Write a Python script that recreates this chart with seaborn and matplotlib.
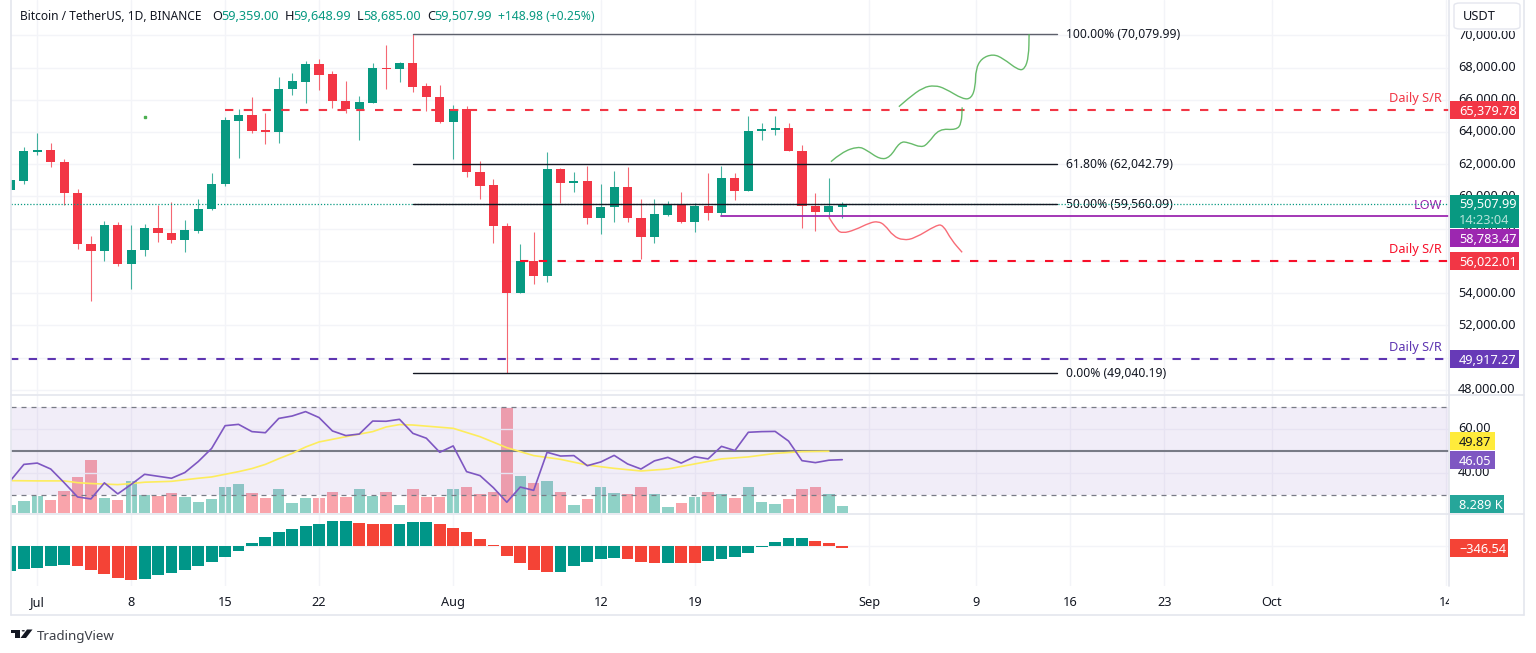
import matplotlib
matplotlib.use("Agg")
import matplotlib.pyplot as plt
import pandas as pd
import seaborn as sns
from matplotlib.patches import Circle, FancyBboxPatch, PathPatch, Polygon, Rectangle
from matplotlib.path import Path
from matplotlib.transforms import Bbox, ScaledTranslation, TransformedBbox

W, H = 1536, 653

# candles, one per day from Jun 29, day 0 is Jul 1
days = list(range(-2, 61))
opens = [60399, 60978, 62778, 62882, 62158, 60213, 57068, 56633, 58206, 55826, 56675, 58061, 57750,
         57295, 57875, 59199, 60771, 64702, 65033, 64102, 63978, 66647, 67123, 68199, 67578, 65923,
         65406, 65820, 67951, 67909, 68261, 66833, 66192, 64599, 65406, 61516, 60688, 58164, 53985,
         56013, 55082, 61682, 60833, 60937, 58661, 59364, 60585, 58682, 57502, 58868, 59468, 58392,
         59426, 58971, 61164, 60337, 64040, 64144, 64268, 62840, 59426, 59033, 59359]
highs = [61226, 63047, 63916, 63295, 62302, 60482, 57544, 58495, 58433, 58206, 58288, 59468, 59633,
         58537, 59861, 61433, 64951, 65406, 66151, 65157, 67413, 67640, 68406, 68530, 67764, 67164,
         66213, 68261, 69420, 68364, 70080, 67061, 66895, 65675, 65613, 62219, 61102, 58330, 57026,
         57771, 62757, 61764, 61495, 61868, 60771, 61578, 61826, 59861, 59861, 59695, 60275, 59612,
         61433, 61868, 61433, 64992, 64537, 64992, 64537, 63213, 60192, 61164, 59649]
lows = [60233, 60771, 62551, 61826, 59468, 56757, 53530, 56013, 55702, 54254, 56302, 57192, 57088,
        56571, 57750, 59157, 60668, 62385, 63916, 63275, 63337, 66275, 65820, 66585, 65489, 65199,
        63502, 65778, 66689, 67123, 66482, 65323, 64537, 62344, 61226, 59861, 57130, 49040, 53985,
        54564, 54709, 59571, 60275, 58288, 57667, 58392, 58433, 56095, 57130, 58806, 58371, 57812,
        58537, 58827, 59778, 60337, 63523, 63813, 62799, 58019, 57875, 58744, 58685]
closes = [61020, 62799, 62902, 62137, 60192, 57047, 56633, 58206, 55826, 56695, 58061, 57730, 57295,
          57895, 59199, 60792, 64723, 65033, 64082, 63978, 66668, 67144, 68199, 67558, 65923, 65427,
          65840, 67951, 67889, 68261, 66813, 66192, 64599, 65406, 61495, 60668, 58144, 53985, 56013,
          55082, 61682, 60833, 60937, 58661, 59364, 60585, 58661, 57502, 58888, 59468, 58413, 59426,
          58992, 61164, 60337, 64061, 64164, 64268, 62819, 59426, 59033, 59385, 59508]
volumes = [10.4, 14.5, 20.7, 15.7, 26.9, 45.1, 66.2, 18.6, 16.6, 39.7, 22.8, 20.7, 25.3, 19.9, 13.2,
           17.8, 32.3, 35.6, 25.3, 18.6, 29.4, 12.4, 18.6, 18.6, 26.1, 19.9, 29.4, 20.7, 26.1, 10.4,
           30.2, 19.9, 19.9, 29.4, 32.7, 24.0, 26.1, 130.8, 46.4, 36.8, 40.2, 26.1, 9.5, 17.0, 31.9,
           24.4, 24.0, 31.9, 23.2, 7.5, 12.4, 19.9, 26.5, 24.0, 18.2, 31.9, 13.7, 11.6, 17.0, 29.4,
           31.9, 23.2, 8.289]
rsi = [36.5, 43.9, 44.5, 41.8, 35.6, 29.1, 28.2, 35.5, 30.5, 34.8, 39.4, 38.5, 37.6, 40.2, 45.2,
       51.2, 61.5, 62.1, 58.8, 58.3, 64.8, 65.9, 67.9, 65.2, 59.1, 57.0, 57.7, 63.6, 63.5, 64.4,
       58.0, 55.8, 49.4, 52.3, 40.6, 38.8, 33.3, 26.7, 33.6, 32.1, 49.4, 47.7, 47.9, 43.3, 45.0,
       48.0, 44.1, 41.8, 45.5, 47.1, 44.5, 47.4, 46.4, 52.1, 50.2, 58.5, 58.8, 58.9, 54.5, 45.6,
       44.7, 45.8, 46.05]
rsi_ma_days = [-2, 0, 2, 3, 4, 6, 7, 8, 10, 12, 13, 14, 15, 16, 17, 18, 19, 20, 21, 23, 25, 26, 27,
               28, 30, 31, 33, 35, 37, 39, 41, 43, 45, 47, 49, 51, 53, 55, 57, 59]
rsi_ma = [36.5, 36.4, 36.4, 35.6, 35.2, 34.7, 35.2, 35.8, 36.2, 37.6, 38.2, 39.4, 40.6, 42.0, 43.9,
          46.5, 48.9, 51.8, 54.1, 56.5, 58.8, 60.9, 62.0, 61.8, 60.8, 60.3, 56.5, 51.5, 47.9, 46.2,
          43.6, 42.1, 40.9, 41.8, 44.1, 46.4, 47.3, 48.9, 49.7, 49.87]
macd = [-3700, -3450, -3250, -3000, -2850, -3000, -3600, -4250, -4750, -5150, -5000, -4400, -4000,
        -3600, -3000, -2350, -1700, -800, 400, 1300, 2050, 2550, 3050, 3350, 3700, 3700, 3450, 3350,
        3350, 3350, 3600, 3600, 3350, 2700, 2050, 1050, 200, -1550, -2550, -3550, -3950, -3850,
        -2950, -2350, -1950, -1850, -1950, -2350, -2600, -2600, -2600, -2600, -2200, -1950, -1600,
        -1050, -200, 600, 1200, 1200, 800, 450, -346.54]
macd_dir = ["up"] * 5 + ["down"] * 5 + ["up"] * 16 + ["down"] * 3 + ["up"] * 3 + ["down"] * 9 + \
    ["up"] * 5 + ["down"] * 3 + ["up"] + ["down"] * 2 + ["up"] * 8 + ["down"] * 3

# hand drawn paths on the chart
green1_x = [59.16, 59.95, 61.19, 61.81, 62.81, 63.55, 64.30, 64.92, 65.91, 66.40, 67.22, 68.51, 68.89, 68.94]
green1_y = [62158, 62737, 63109, 62882, 62302, 62406, 63399, 63357, 63026, 63295, 64206, 64123, 64537, 65530]
green2_x = [64.22, 64.92, 66.03, 66.90, 67.65, 69.01, 69.63, 69.93, 69.95, 70.38, 71.24, 71.99, 73.11, 73.60, 73.90, 73.93]
green2_y = [65571, 66089, 66771, 66895, 66709, 66026, 66089, 66813, 67889, 68571, 68840, 68571, 67847, 67889, 68675, 70080]
red_x = [59.01, 59.58, 60.02, 60.94, 62.06, 62.68, 63.18, 63.80, 64.54, 65.41, 67.03, 67.52, 68.14, 68.94]
red_y = [58702, 57916, 57709, 57916, 58371, 58454, 58226, 57543, 57275, 57399, 58226, 58226, 57295, 56530]

fib_levels = [70079.99, 62042.79, 59560.09, 49040.19]
fib_labels = ["100.00% (70,079.99)", "61.80% (62,042.79)", "50.00% (59,560.09)", "0.00% (49,040.19)"]
fib_colors = ["#5d606b", "#131722", "#131722", "#131722"]
sr_levels = [65379.78, 56022.01, 49917.27]
sr_starts = [14, 36, -2]
sr_colors = ["#f23645", "#f7102a", "#5e35b1"]
low_level = 58783.47
low_start = 51
last_price = 59507.99

price_ticks = list(range(48000, 72000, 2000))
date_ticks = [0, 7, 14, 21, 31, 42, 49, 62, 70, 77, 84, 92, 105]
date_labels = ["Jul", "8", "15", "22", "Aug", "12", "19", "Sep", "9", "16", "23", "Oct", "14"]
month_labels = ["Jul", "Aug", "Sep", "Oct"]

GREEN = "#089981"
RED = "#f23645"
TEXT = "#131722"
GRID = "#f3f4f8"
BORDER = "#e4e6ee"
XMIN, XMAX = -1.96, 105.23
FS = 9.2
VA = "center_baseline"

sns.set_theme(style="white")
plt.rcParams["font.family"] = ["Noto Sans", "DejaVu Sans"]
plt.rcParams["font.size"] = FS

fig = plt.figure(figsize=(W / 100, H / 100), dpi=100, facecolor="white")


def px_axes(x0, y0, x1, y1):
    return fig.add_axes([x0 / W, 1 - y1 / H, (x1 - x0) / W, (y1 - y0) / H])


def clip_px(x0, y0, x1, y1):
    return TransformedBbox(Bbox([[x0 / W, 1 - y1 / H], [x1 / W, 1 - y0 / H]]), fig.transFigure)


def px_text(x, y, s, **kw):
    kw.setdefault("color", TEXT)
    kw.setdefault("fontsize", FS)
    return fig.text(x / W, 1 - y / H, s, va=VA, zorder=19, **kw)


# pen stroke through the read points, rounded at each one
def pen(a, xs, ys, color):
    verts = [(xs[0], ys[0])]
    codes = [Path.MOVETO]
    for i in range(1, len(xs) - 1):
        verts += [(xs[i], ys[i]), ((xs[i] + xs[i + 1]) / 2, (ys[i] + ys[i + 1]) / 2)]
        codes += [Path.CURVE3, Path.CURVE3]
    verts.append((xs[-1], ys[-1]))
    codes.append(Path.LINETO)
    a.add_patch(PathPatch(Path(verts, codes), fc="none", ec=color, lw=1, alpha=0.85, zorder=5))


ax = px_axes(11, 0, 1449, 394)
ax_rsi = px_axes(11, 395, 1449, 513)
ax_vol = ax_rsi.twinx()
ax_macd = px_axes(11, 514, 1449, 586)
ax_vol.set_zorder(1)
ax_rsi.set_zorder(2)
ax_rsi.patch.set_visible(False)

df = pd.DataFrame({"day": days, "open": opens, "high": highs, "low": lows, "close": closes,
                   "volume": volumes, "rsi": rsi, "macd": macd, "macd_dir": macd_dir})
df["dir"] = ["up" if c >= o else "down" for o, c in zip(df["open"], df["close"])]
df["color"] = df["dir"].map({"up": GREEN, "down": RED})

# candles
ax.vlines(df["day"], df["low"], df["high"], colors=df["color"], linewidth=0.8, alpha=0.75, zorder=3)
ax.bar(df["day"], (df["close"] - df["open"]).abs().clip(lower=60), bottom=df[["open", "close"]].min(axis=1),
       width=0.68, color=df["color"], linewidth=0, zorder=3)

# levels
for level, start, color in zip(sr_levels, sr_starts, sr_colors):
    ax.plot([start, XMAX], [level, level], color=color, lw=1.5, dashes=(4, 5), zorder=4)
    ax.annotate("Daily S/R", xy=(1442, level), xycoords=("figure pixels", "data"), xytext=(0, 12.5),
                textcoords="offset pixels", color=color, ha="right", va=VA, fontsize=FS)
ax.axhline(last_price, color=GREEN, lw=0.9, ls=(0, (1, 1.5)), zorder=4)
ax.plot([low_start, XMAX], [low_level, low_level], color="#9c27b0", lw=1.3, zorder=4)
ax.annotate("LOW", xy=(1442, low_level), xycoords=("figure pixels", "data"), xytext=(0, 12),
            textcoords="offset pixels", color="#9c27b0", ha="right", va=VA, fontsize=FS)
for level, label, color in zip(fib_levels, fib_labels, fib_colors):
    ax.plot([28, 76], [level, level], color=color, lw=1.0, zorder=5)
    ax.annotate(label, xy=(76, level), xytext=(9, 1), textcoords="offset pixels", color=TEXT,
                ha="left", va=VA, fontsize=8.75)

pen(ax, green1_x, green1_y, "#4caf50")
pen(ax, green2_x, green2_y, "#4caf50")
pen(ax, red_x, red_y, "#f7525f")
ax.plot([8], [64951], marker="s", ms=1.5, color="#4caf50", zorder=5)

ax.set_ylim(47736, 72193)
ax.set_yticks(price_ticks)
ax.set_yticklabels([f"{p:,.2f}" for p in price_ticks])

# volume under the rsi
sns.barplot(data=df, x="day", y="volume", hue="dir", palette={"up": GREEN, "down": RED}, native_scale=True,
            width=0.85, saturation=1, alpha=0.45, linewidth=0, legend=False, errorbar=None, ax=ax_vol)
ax_vol.set_ylim(0, 146.4)
ax_vol.axis("off")

ax_rsi.axhspan(30, 70, color="#7e57c2", alpha=0.1, lw=0, zorder=1)
ax_rsi.axhline(70, color="#787b86", lw=0.9, dashes=(4, 4), zorder=2)
ax_rsi.axhline(30, color="#787b86", lw=0.9, dashes=(4, 4), zorder=2)
ax_rsi.axhline(50, color="#787b86", lw=1.5, zorder=2)
sns.lineplot(x=rsi_ma_days, y=rsi_ma, color="#fdec5c", lw=1.2, ax=ax_rsi, zorder=3)
sns.lineplot(data=df, x="day", y="rsi", color="#7e57c2", lw=1.2, errorbar=None, ax=ax_rsi, zorder=4)
ax_rsi.set_ylim(21.8, 75.45)
ax_rsi.set_yticks([40, 60])
ax_rsi.set_yticklabels(["40.00", "60.00"])

# macd histogram
sns.barplot(data=df, x="day", y="macd", hue="macd_dir", palette={"up": "#009688", "down": "#f44336"},
            native_scale=True, width=0.88, saturation=1, linewidth=0, legend=False, errorbar=None, ax=ax_macd)
ax_macd.set_ylim(-6000, 4800)
ax_macd.set_yticks([0])
ax_macd.set_yticklabels([""])

for a in [ax, ax_rsi, ax_macd]:
    a.set_xlim(XMIN, XMAX)
    a.set_xticks(date_ticks)
    a.set_xlabel("")
    a.set_ylabel("")
    a.yaxis.tick_right()
    a.grid(True, color=GRID, lw=1)
    a.set_axisbelow(True)
    a.tick_params(axis="both", length=0, colors=TEXT, labelsize=FS)
    a.tick_params(axis="y", pad=6.5)
    for s in a.spines.values():
        s.set_visible(False)
    for lab in a.get_yticklabels():
        lab.set_verticalalignment(VA)
        lab.set_transform(lab.get_transform() + ScaledTranslation(0, 1.5 / 100, fig.dpi_scale_trans))
ax.tick_params(axis="x", labelbottom=False)
ax_rsi.tick_params(axis="x", labelbottom=False)
ax_macd.set_xticklabels(date_labels)
ax_macd.tick_params(axis="x", pad=7)
for lab in ax_macd.get_xticklabels():
    if lab.get_text() in month_labels:
        lab.set_fontweight("bold")
    lab.set_clip_box(clip_px(0, 586, 1449, 615))
    lab.set_clip_on(True)
for lab in ax.get_yticklabels():
    lab.set_clip_box(clip_px(1449, 31, 1524, 394))
    lab.set_clip_on(True)


# price badges on the right scale, box size as in the scale column
def badge(a, y, text, color, width, fg="white", shift=0):
    y_px = H - a.transData.transform((0, y))[1] - shift
    fig.add_artist(Rectangle((1450 / W, 1 - (y_px + 9) / H), width / W, 18 / H, transform=fig.transFigure,
                             fc=color, ec="none", zorder=18))
    px_text(1459, y_px, text, color=fg)


badge(ax, 65379.78, "65,379.78", "#f23645", 69)
badge(ax, 56022.01, "56,022.01", "#f23645", 69)
badge(ax, 49917.27, "49,917.27", "#673ab7", 69)
badge(ax, low_level, "58,783.47", "#9c27b0", 69, shift=-21.5)
badge(ax_rsi, rsi_ma[-1], "49.87", "#ffeb3b", 45, fg=TEXT, shift=10)
badge(ax_rsi, rsi[-1], "46.05", "#7e57c2", 45)
badge(ax_vol, volumes[-1], "8.289 K", "#26a69a", 54, shift=2)
badge(ax_macd, macd[-1], "\u2212346.54", "#f44336", 58)
# last price badge holds the countdown too
fig.add_artist(Rectangle((1450 / W, 1 - 228 / H), 69 / W, 33 / H, transform=fig.transFigure,
                         fc=GREEN, ec="none", zorder=18))
px_text(1459, 203, "59,507.99", color="white")
px_text(1459, 219, "14:23:04", color="#b5e3da")

# frame around the panes
for x0, y0, x1, y1 in [(11, 0, 11, 615), (1524, 0, 1524, 615), (11, 615, 1524, 615), (11, 394.5, 1524, 394.5),
                       (11, 513.5, 1524, 513.5), (1449, 0, 1449, 586)]:
    fig.add_artist(plt.Line2D([x0 / W, x1 / W], [1 - y0 / H, 1 - y1 / H], color=BORDER, lw=1.2, zorder=15))

# currency button
fig.add_artist(Rectangle((1450 / W, 1 - 31 / H), 73 / W, 31 / H, transform=fig.transFigure, fc="white", ec="none", zorder=16))
fig.add_artist(FancyBboxPatch((1454 / W, 1 - 29 / H), 66 / W, 26 / H, transform=fig.transFigure,
                              boxstyle="round,pad=0,rounding_size=0.004", fc="white", ec=BORDER, lw=1, zorder=17))
px_text(1463, 15, "USDT")

# legend line
px_text(20, 15, "Bitcoin / TetherUS, 1D, BINANCE", fontsize=8.6)
for x, letter, x_val, value in [(212, "O", 221, "59,359.00"), (285, "H", 293, "59,648.99"),
                                (357, "L", 363, "58,685.00"), (427, "C", 434, "59,507.99")]:
    px_text(x, 15, letter)
    px_text(x_val, 15, value, color=GREEN)
px_text(498, 15, "+148.98 (+0.25%)", color=GREEN, fontsize=8.75)

# logo
logo = [[(11, 629.5), (20, 629.5), (20, 638), (15, 638), (15, 632.5), (11, 632.5)],
        [(27, 629.5), (32.5, 629.5), (26, 638), (20.5, 638)]]
for pts in logo:
    fig.add_artist(Polygon([(x / W, 1 - y / H) for x, y in pts], transform=fig.transFigure, fc=TEXT, ec="none"))
fig.add_artist(Circle((23.3 / W, 1 - 630.8 / H), 1.6 / W, transform=fig.transFigure, fc=TEXT, ec="none"))
fig.text(37 / W, 1 - 635 / H, "TradingView", color="#3c3f47", fontsize=9.6, va=VA)

fig.savefig("out.png", dpi=100)
